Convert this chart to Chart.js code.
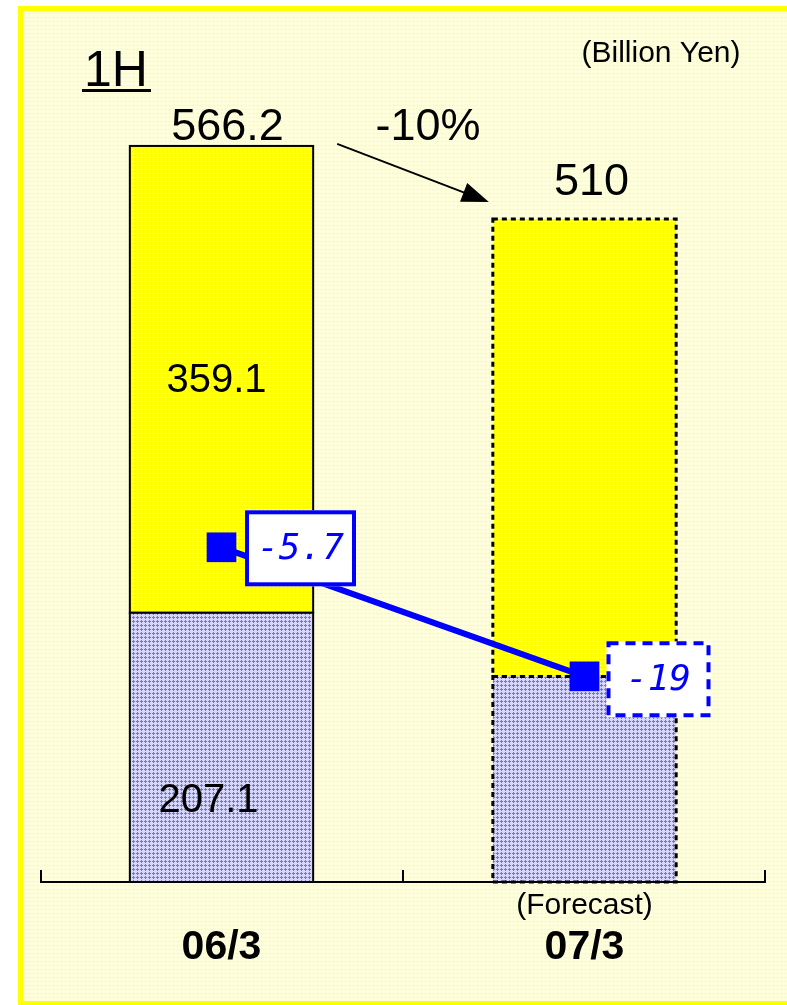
<!DOCTYPE html>
<html>
<head>
<meta charset="utf-8">
<script src="https://cdn.jsdelivr.net/npm/chart.js@4.4.1/dist/chart.umd.min.js"></script>
<style>
html, body { margin: 0; padding: 0; background: #fff; }
</style>
</head>
<body>
<canvas id="chart" width="787" height="1005"></canvas>
<script>
// data (billion yen)
const periods = ['06/3', '07/3'];
const periodNotes = ['', '(Forecast)'];
const lowerPart = [207.1, 158];
const upperPart = [359.1, 352];
const totalLabels = ['566.2', '510'];
const lowerLabels = ['207.1', ''];
const upperLabels = ['359.1', ''];
const profit = [-5.7, -19];
const profitLabels = ['-5.7', '-19'];
const changeLabel = '-10%';

function makePattern(bg, fg) {
    const c = document.createElement('canvas');
    c.width = 4;
    c.height = 4;
    const g = c.getContext('2d');
    g.fillStyle = bg;
    g.fillRect(0, 0, 4, 4);
    g.fillStyle = fg;
    g.fillRect(1, 0, 1, 3);
    g.fillRect(0, 1, 3, 1);
    return g.createPattern(c, 'repeat');
}

const ctx = document.getElementById('chart').getContext('2d');
const yellowFill = makePattern('#FFFF00', '#FFFF80');
const blueFill = makePattern('#D6D6FF', '#7070FF');
const pageFill = makePattern('#FFFFDC', '#FFFFA8');

const background = {
    id: 'background',
    beforeDraw(chart) {
        const c = chart.ctx;
        c.save();
        c.fillStyle = '#FFFFFF';
        c.fillRect(0, 0, chart.width, chart.height);
        c.fillStyle = pageFill;
        c.fillRect(20, 8, chart.width, chart.height);
        c.strokeStyle = '#FFFF00';
        c.lineWidth = 5;
        c.strokeRect(20.5, 8.5, chart.width + 10, 995);
        c.restore();
    }
};

// bar outlines: solid for actual, dashed for forecast
const barOutline = {
    id: 'barOutline',
    afterDatasetDraw(chart, args) {
        if (args.meta.type !== 'bar') return;
        const c = chart.ctx;
        args.meta.data.forEach((bar, i) => {
            const p = bar.getProps(['x', 'y', 'base', 'width'], true);
            c.save();
            c.strokeStyle = '#000';
            if (i === 1) {
                c.lineWidth = 3;
                c.setLineDash([5, 4]);
            } else {
                c.lineWidth = 2;
            }
            c.strokeRect(p.x - p.width / 2, p.y, p.width, p.base - p.y);
            c.restore();
        });
    }
};

const annotations = {
    id: 'annotations',
    afterDraw(chart) {
        const c = chart.ctx;
        const area = chart.chartArea;
        const x = chart.scales.x;
        const lower = chart.getDatasetMeta(1).data;
        const upper = chart.getDatasetMeta(2).data;
        const pts = chart.getDatasetMeta(0).data;
        c.save();

        // axis line and category ticks
        c.strokeStyle = '#000';
        c.lineWidth = 2;
        c.beginPath();
        c.moveTo(area.left, area.bottom);
        c.lineTo(area.right, area.bottom);
        const p0 = x.getPixelForValue(0);
        const p1 = x.getPixelForValue(1);
        [area.left + 1, (p0 + p1) / 2, area.right - 1].forEach(tx => {
            c.moveTo(tx, area.bottom);
            c.lineTo(tx, area.bottom - 12);
        });
        c.stroke();

        // category labels
        c.fillStyle = '#000';
        c.textAlign = 'center';
        c.textBaseline = 'alphabetic';
        periods.forEach((lab, i) => {
            const px = x.getPixelForValue(i);
            c.font = 'bold 41px "Liberation Sans", Arial, sans-serif';
            c.fillText(lab, px, 959);
            if (periodNotes[i]) {
                c.font = '30px "Liberation Sans", Arial, sans-serif';
                c.fillText(periodNotes[i], px, 914);
            }
        });

        // totals and part values
        c.font = '45px "Liberation Sans", Arial, sans-serif';
        const totalGap = [6, 24];
        upper.forEach((bar, i) => {
            const p = bar.getProps(['x', 'y'], true);
            c.fillText(totalLabels[i], p.x + 6 * (1 - i) + 7 * i, p.y - totalGap[i]);
        });
        c.font = '40px "Liberation Sans", Arial, sans-serif';
        c.textBaseline = 'middle';
        upper.forEach((bar, i) => {
            if (!upperLabels[i]) return;
            const p = bar.getProps(['x', 'y', 'base'], true);
            c.fillText(upperLabels[i], p.x - 5, (p.y + p.base) / 2 + 2);
        });
        lower.forEach((bar, i) => {
            if (!lowerLabels[i]) return;
            const p = bar.getProps(['x', 'y', 'base'], true);
            c.fillText(lowerLabels[i], p.x - 13, p.base - 81);
        });

        // header texts
        c.textBaseline = 'alphabetic';
        c.textAlign = 'left';
        c.font = '50px "Liberation Sans", Arial, sans-serif';
        c.fillText('1H', 84, 86);
        c.fillRect(82, 89, 69, 3);
        c.textAlign = 'center';
        c.font = '30px "Liberation Sans", Arial, sans-serif';
        c.fillText('(Billion Yen)', 661, 62);
        c.font = '45px "Liberation Sans", Arial, sans-serif';
        c.fillText(changeLabel, 428, 140);

        // arrow between the two totals
        const a = upper[0].getProps(['x', 'y', 'width'], true);
        const b = upper[1].getProps(['x', 'y', 'width'], true);
        const sx = a.x + a.width / 2 + 24, sy = a.y - 2;
        const ex = b.x - b.width / 2 - 4, ey = b.y - 17;
        const ang = Math.atan2(ey - sy, ex - sx);
        c.lineWidth = 2;
        c.beginPath();
        c.moveTo(sx, sy);
        c.lineTo(ex - 20 * Math.cos(ang), ey - 20 * Math.sin(ang));
        c.stroke();
        c.beginPath();
        c.moveTo(ex, ey);
        c.lineTo(ex - 27 * Math.cos(ang) + 10 * Math.sin(ang), ey - 27 * Math.sin(ang) - 10 * Math.cos(ang));
        c.lineTo(ex - 27 * Math.cos(ang) - 10 * Math.sin(ang), ey - 27 * Math.sin(ang) + 10 * Math.cos(ang));
        c.closePath();
        c.fill();

        // profit label boxes
        const boxes = [
            { dx: 79, dy: 1, w: 111, h: 76, dash: [] },
            { dx: 74, dy: 3, w: 104, h: 76, dash: [10, 7] }
        ];
        pts.forEach((pt, i) => {
            const bx = pt.x + boxes[i].dx;
            const by = pt.y + boxes[i].dy;
            const w = boxes[i].w, h = boxes[i].h;
            c.fillStyle = '#FFFFFF';
            c.fillRect(bx - w / 2, by - h / 2, w, h);
            c.strokeStyle = '#0000FF';
            c.lineWidth = 4;
            c.setLineDash(boxes[i].dash);
            c.strokeRect(bx - w / 2 + 2, by - h / 2 + 2, w - 4, h - 4);
            c.setLineDash([]);
            c.fillStyle = '#0000FF';
            c.font = 'oblique 36px "DejaVu Sans Mono", monospace';
            c.textBaseline = 'middle';
            c.fillText(profitLabels[i], bx, by + 1);
        });
        c.restore();
    }
};

new Chart(ctx, {
    type: 'bar',
    data: {
        labels: periods,
        datasets: [
            {
                type: 'line',
                label: 'Profit',
                data: profit,
                yAxisID: 'y2',
                borderColor: '#0000FF',
                borderWidth: 6,
                pointStyle: 'rect',
                pointRadius: 21,
                pointBackgroundColor: '#0000FF',
                pointBorderWidth: 0,
                order: 0
            },
            {
                label: 'Lower',
                data: lowerPart,
                backgroundColor: blueFill,
                borderWidth: 0,
                yAxisID: 'y',
                order: 1
            },
            {
                label: 'Upper',
                data: upperPart,
                backgroundColor: yellowFill,
                borderWidth: 0,
                yAxisID: 'y',
                order: 1
            }
        ]
    },
    options: {
        responsive: false,
        animation: false,
        devicePixelRatio: 1,
        layout: { padding: { left: 40, right: 19, top: 37, bottom: 123 } },
        categoryPercentage: 1,
        barPercentage: 0.505,
        plugins: { legend: { display: false }, tooltip: { enabled: false } },
        scales: {
            x: { display: false, stacked: true },
            y: { display: false, stacked: true, min: 0, max: 650 },
            y2: { display: false, stacked: false, min: -40.2, max: 46.9 }
        }
    },
    plugins: [background, barOutline, annotations]
});
</script>
</body>
</html>
